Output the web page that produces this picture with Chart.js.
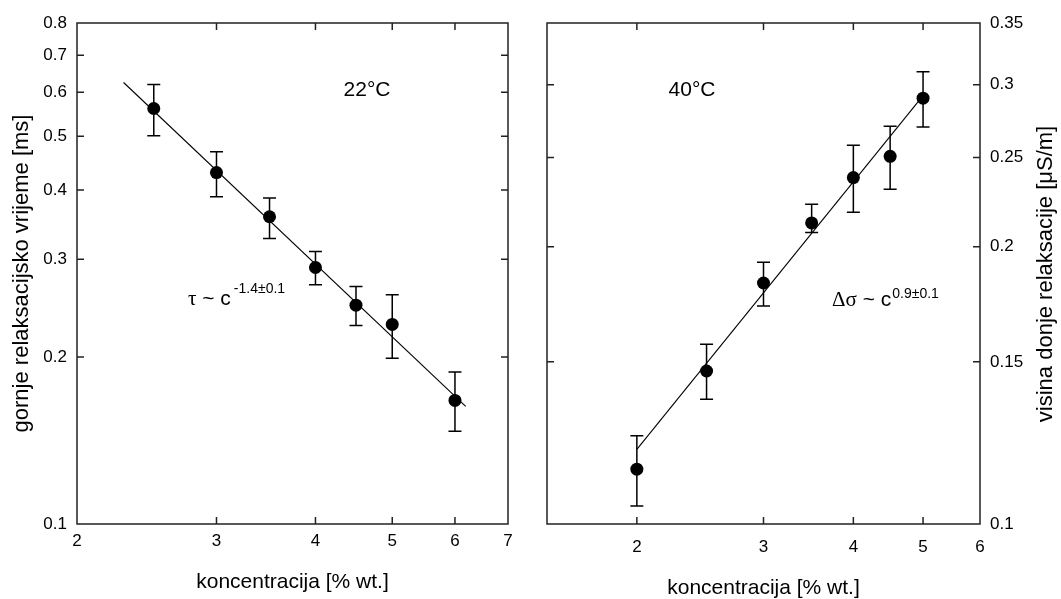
<!DOCTYPE html>
<html>
<head>
<meta charset="utf-8">
<script src="https://cdn.jsdelivr.net/npm/chart.js@4"></script>
<style>
    html, body { margin: 0; padding: 0; background: #fff; }
    #wrap { position: relative; width: 1061px; height: 599px; }
    #left { position: absolute; left: 0; top: 0; }
    #right { position: absolute; left: 530px; top: 0; }
</style>
</head>
<body>
<div id="wrap">
    <canvas id="left" width="540" height="599"></canvas>
    <canvas id="right" width="531" height="599"></canvas>
</div>
<script>
/*===== DATA =====*/
// left panel, 22°C
const concL = [2.5, 3, 3.5, 4, 4.5, 5, 6]
const tauL = [0.561, 0.430, 0.358, 0.290, 0.248, 0.229, 0.167]
const tauHi = [0.620, 0.469, 0.387, 0.310, 0.268, 0.259, 0.188]
const tauLo = [0.501, 0.389, 0.327, 0.270, 0.228, 0.199, 0.147]
const fitXL = [2.29, 6.19]
const fitYL = [0.625, 0.163]
const xTicksL = [2, 3, 4, 5, 6, 7]
const yTicksL = [0.1, 0.2, 0.3, 0.4, 0.5, 0.6, 0.7, 0.8]
const xMarksL = [3, 4, 5, 6]
const yMarksL = [0.2, 0.3, 0.4, 0.5, 0.6, 0.7]

// right panel, 40°C
const concR = [2, 2.5, 3, 3.5, 4, 4.5, 5]
const sigR = [0.1147, 0.1466, 0.1827, 0.2123, 0.2378, 0.2508, 0.2900]
const sigHi = [0.1247, 0.1567, 0.1924, 0.2225, 0.2578, 0.2704, 0.3099]
const sigLo = [0.1046, 0.1366, 0.1725, 0.2073, 0.2181, 0.2310, 0.2699]
const fitXR = [2, 4.92]
const fitYR = [0.1205, 0.2873]
const xTicksR = [2, 3, 4, 5, 6]
const yTicksR = [0.1, 0.15, 0.2, 0.25, 0.3, 0.35]
const xMarksR = [2, 3, 4, 5]
const yMarksR = [0.15, 0.2, 0.25, 0.3]

const SANS = "'Liberation Sans', Arial, sans-serif"
const SERIF = "'Liberation Serif', 'Times New Roman', serif"

/*===== PLUGIN: error bars, frame, inner ticks, notes =====*/
const makeDecor = (o) => ({
    id: 'decor',
    beforeDatasetsDraw(chart) {
        const ctx = chart.ctx, xs = chart.scales.x, ys = chart.scales.y
        ctx.save()
        ctx.strokeStyle = '#000'
        ctx.lineWidth = 1.5
        o.x.forEach((c, i) => {
            const px = xs.getPixelForValue(c)
            const t = ys.getPixelForValue(o.hi[i])
            const b = ys.getPixelForValue(o.lo[i])
            ctx.beginPath()
            ctx.moveTo(px, t); ctx.lineTo(px, b)
            ctx.moveTo(px - 6.5, t); ctx.lineTo(px + 6.5, t)
            ctx.moveTo(px - 6.5, b); ctx.lineTo(px + 6.5, b)
            ctx.stroke()
        })
        ctx.restore()
    },
    afterDraw(chart) {
        const ctx = chart.ctx, a = chart.chartArea
        const xs = chart.scales.x, ys = chart.scales.y
        ctx.save()
        ctx.strokeStyle = '#222'
        ctx.lineWidth = 1.5
        ctx.strokeRect(a.left, a.top, a.right - a.left, a.bottom - a.top)
        ctx.beginPath()
        o.xMarks.forEach(v => {
            const p = xs.getPixelForValue(v)
            ctx.moveTo(p, a.bottom); ctx.lineTo(p, a.bottom - 7)
            ctx.moveTo(p, a.top); ctx.lineTo(p, a.top + 7)
        })
        o.yMarks.forEach(v => {
            const p = ys.getPixelForValue(v)
            ctx.moveTo(a.left, p); ctx.lineTo(a.left + 7, p)
            ctx.moveTo(a.right, p); ctx.lineTo(a.right - 7, p)
        })
        ctx.stroke()

        ctx.fillStyle = '#000'
        ctx.textBaseline = 'alphabetic'
        // temperature
        ctx.font = '21px ' + SANS
        ctx.textAlign = 'center'
        ctx.fillText(o.temp.text, o.temp.x, o.temp.y)
        // power law
        ctx.textAlign = 'left'
        let x = o.law.x
        ctx.font = '21px ' + SERIF
        ctx.fillText(o.law.greek, x, o.law.y)
        x += ctx.measureText(o.law.greek).width
        ctx.font = '21px ' + SANS
        ctx.fillText(' ~ c', x, o.law.y)
        x += ctx.measureText(' ~ c').width + o.law.gap
        ctx.font = '14px ' + SANS
        ctx.fillText(o.law.exp, x, o.law.y - o.law.sup)
        // rotated right-hand title
        if (o.sideTitle) {
            ctx.font = '22px ' + SANS
            ctx.textAlign = 'center'
            ctx.textBaseline = 'middle'
            ctx.translate(o.sideTitle.x, o.sideTitle.y)
            ctx.rotate(-Math.PI / 2)
            ctx.fillText(o.sideTitle.text, 0, 0)
        }
        ctx.restore()
    }
})

const tickFont = { family: SANS, size: 17 }
const titleFont = { family: SANS, size: 21, lineHeight: 1 }

const makeChart = (id, o) => new Chart(document.getElementById(id), {
    type: 'scatter',
    data: {
        datasets: [{
            data: o.x.map((v, i) => ({ x: v, y: o.y[i] })),
            pointRadius: 6.5,
            pointHoverRadius: 6.5,
            pointBackgroundColor: '#000',
            pointBorderWidth: 0,
            showLine: false,
            order: 0
        }, {
            data: o.fitX.map((v, i) => ({ x: v, y: o.fitY[i] })),
            showLine: true,
            borderColor: '#000',
            borderWidth: 1.1,
            pointRadius: 0,
            order: 1
        }]
    },
    options: {
        responsive: false,
        animation: false,
        events: [],
        layout: { padding: o.pad },
        plugins: { legend: { display: false }, tooltip: { enabled: false } },
        scales: {
            x: {
                type: 'logarithmic',
                position: 'bottom',
                min: o.xMin, max: o.xMax,
                afterBuildTicks: s => { s.ticks = o.xTicks.map(v => ({ value: v })) },
                afterFit: s => { s.height = 75 },
                grid: { display: false, drawTicks: false },
                border: { display: false },
                ticks: {
                    padding: o.xTickPad, color: '#000', font: tickFont,
                    autoSkip: false, maxRotation: 0, callback: v => String(v)
                },
                title: {
                    display: true, text: 'koncentracija [% wt.]', color: '#000',
                    font: titleFont, padding: { top: 0, bottom: o.xTitlePad }
                }
            },
            y: {
                type: 'logarithmic',
                position: o.yPos,
                min: o.yMin, max: o.yMax,
                afterBuildTicks: s => { s.ticks = o.yTicks.map(v => ({ value: v })) },
                afterFit: s => { s.width = o.yWidth },
                grid: { display: false, drawTicks: false },
                border: { display: false },
                ticks: {
                    padding: 10, color: '#000', font: tickFont,
                    autoSkip: false, callback: v => String(v)
                },
                title: {
                    display: !!o.yTitle, text: o.yTitle || '', color: '#000',
                    font: { family: SANS, size: 22, lineHeight: 1 }, padding: { top: 11, bottom: 0 }
                }
            }
        }
    },
    plugins: [makeDecor(o)]
})

makeChart('left', {
    x: concL, y: tauL, hi: tauHi, lo: tauLo, fitX: fitXL, fitY: fitYL,
    xMin: 2, xMax: 7, yMin: 0.1, yMax: 0.8,
    xTicks: xTicksL, yTicks: yTicksL, xMarks: xMarksL, yMarks: yMarksL,
    pad: { left: 0, top: 23, right: 32, bottom: 0 },
    yPos: 'left', yWidth: 77, xTickPad: 7, xTitlePad: 6,
    yTitle: 'gornje relaksacijsko vrijeme [ms]',
    temp: { text: '22°C', x: 367, y: 96 },
    law: { greek: 'τ', x: 188, y: 304.5, sup: 11.5, gap: 3, exp: '-1.4±0.1' }
})

makeChart('right', {
    x: concR, y: sigR, hi: sigHi, lo: sigLo, fitX: fitXR, fitY: fitYR,
    xMin: 1.5, xMax: 6, yMin: 0.1, yMax: 0.35,
    xTicks: xTicksR, yTicks: yTicksR, xMarks: xMarksR, yMarks: yMarksR,
    pad: { left: 17, top: 23, right: 0, bottom: 0 },
    yPos: 'right', yWidth: 81, xTickPad: 13, xTitlePad: 0,
    temp: { text: '40°C', x: 162, y: 96 },
    law: { greek: 'Δσ', x: 302, y: 305.5, sup: 8, gap: 1, exp: '0.9±0.1' },
    sideTitle: { text: 'visina donje relaksacije [μS/m]', x: 516, y: 274 }
})
</script>
</body>
</html>
